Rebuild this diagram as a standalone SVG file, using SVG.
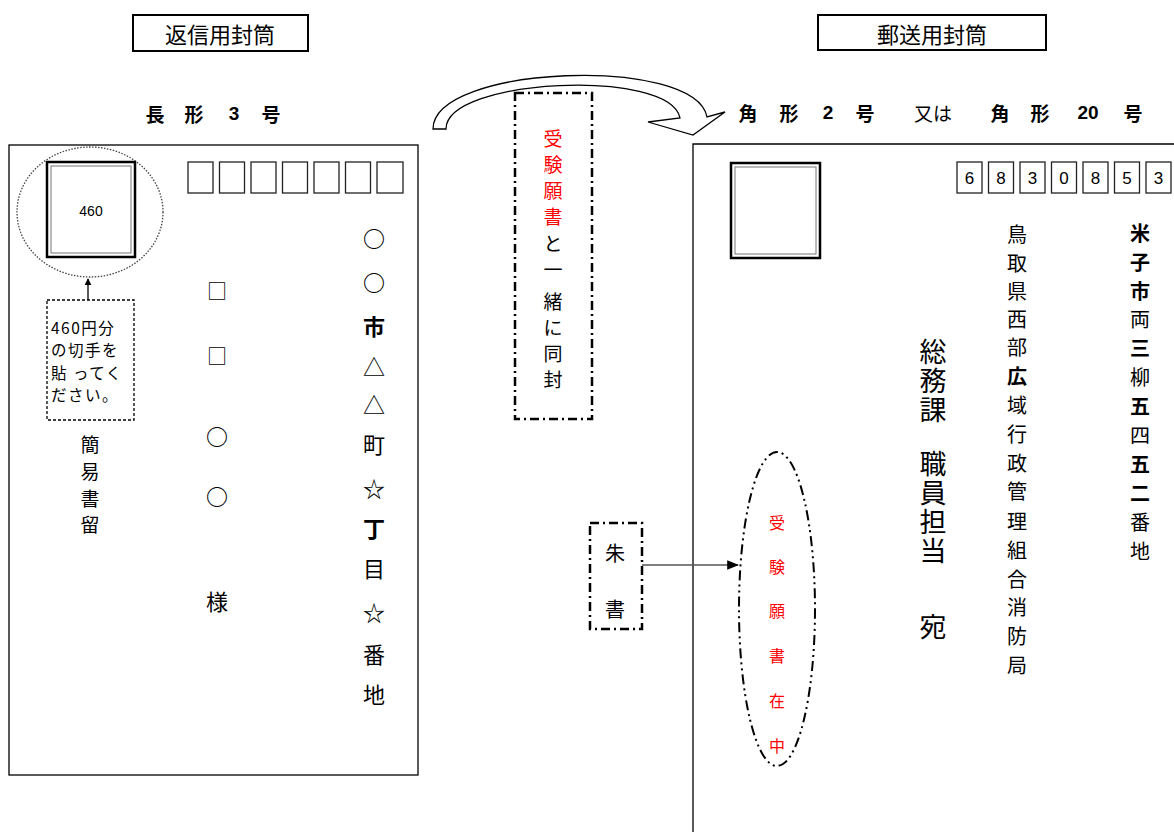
<svg xmlns="http://www.w3.org/2000/svg" width="1174" height="832" viewBox="0 0 1174 832">
<style>
text{font-family:"Noto Sans CJK JP","Noto Sans",sans-serif;fill:#000;}
.c{text-anchor:middle;dominant-baseline:central;}
.v{writing-mode:vertical-rl;letter-spacing:2px;}
.red{fill:#ff0000;}
.b{font-weight:bold;}
.frame{fill:#fff;stroke:#000;stroke-width:1.3;}
.title{fill:#fff;stroke:#000;stroke-width:2;}
.dd{fill:none;stroke:#000;stroke-width:2.5;stroke-dasharray:9 4 2 4;}
.pbox{fill:#fff;stroke:#222;stroke-width:1.3;}
.stamp{fill:#fff;stroke:#000;stroke-width:2.5;}
.stampin{fill:none;stroke:#777;stroke-width:1;}
.num{font-family:"Liberation Sans",sans-serif;}
</style>
<defs>
<marker id="ah" viewBox="0 0 10 10" refX="9" refY="5" markerWidth="7" markerHeight="7" orient="auto" markerUnits="userSpaceOnUse">
<path d="M0,0 L10,5 L0,10 z" fill="#000"/>
</marker>
<marker id="ah2" viewBox="0 0 10 10" refX="9" refY="5" markerWidth="12" markerHeight="12" orient="auto" markerUnits="userSpaceOnUse">
<path d="M0,1 L10,5 L0,9 z" fill="#000"/>
</marker>
</defs>
<rect width="1174" height="832" fill="#fff"/>

<g id="title-left">
<rect class="title" x="133" y="15" width="175" height="36"/>
<text class="c" x="220" y="33" font-size="22">返信用封筒</text>
</g>
<g id="title-right">
<rect class="title" x="818" y="15" width="228" height="35"/>
<text class="c" x="932" y="33" font-size="22">郵送用封筒</text>
</g>

<g id="size-left">
<text class="c b" y="113" font-size="19"><tspan x="155">長</tspan><tspan x="194">形</tspan><tspan x="234" class="num">3</tspan><tspan x="271">号</tspan></text>
</g>
<g id="size-right">
<text class="c b" y="112" font-size="19"><tspan x="748">角</tspan><tspan x="789">形</tspan><tspan x="828" class="num">2</tspan><tspan x="865">号</tspan></text>
<text class="c" x="933" y="112" font-size="19">又は</text>
<text class="c b" y="112" font-size="19"><tspan x="1000">角</tspan><tspan x="1040">形</tspan><tspan x="1088" class="num">20</tspan><tspan x="1133">号</tspan></text>
</g>

<g id="envelope-left">
<rect class="frame" x="9" y="145" width="409" height="630"/>
<g id="stamp-left">
<ellipse cx="90" cy="212" rx="73" ry="65" fill="none" stroke="#444" stroke-width="1.3" stroke-dasharray="1.5 1.5"/>
<rect class="stamp" x="47" y="162" width="88" height="95"/>
<rect class="stampin" x="51" y="166" width="80" height="87"/>
<text class="c num" x="91" y="211" font-size="14">460</text>
</g>
<g id="postal-left">
<rect class="pbox" x="188" y="162" width="25" height="31"/>
<rect class="pbox" x="219.5" y="162" width="25" height="31"/>
<rect class="pbox" x="251" y="162" width="25" height="31"/>
<rect class="pbox" x="282.5" y="162" width="25" height="31"/>
<rect class="pbox" x="314" y="162" width="25" height="31"/>
<rect class="pbox" x="345.5" y="162" width="25" height="31"/>
<rect class="pbox" x="377" y="162" width="26" height="31"/>
</g>
<g id="stamp-note">
<rect x="47" y="300" width="87" height="120" fill="#fff" stroke="#000" stroke-width="1.3" stroke-dasharray="3 2"/>
<text font-size="15.5" letter-spacing="1.5"><tspan x="51" y="334">460円分</tspan><tspan x="51" y="356">の切手を</tspan><tspan x="51" y="379">貼 ってく</tspan><tspan x="51" y="401">ださい。</tspan></text>
</g>
<g id="kanni">
<text class="c" x="90" font-size="19"><tspan x="90" y="443">簡</tspan><tspan x="90" y="470">易</tspan><tspan x="90" y="497">書</tspan><tspan x="90" y="523">留</tspan></text>
</g>
<g id="address-left">
<text class="c" font-size="22"><tspan x="374" y="237" class="b">○</tspan><tspan x="374" y="281" class="b">○</tspan><tspan x="374" y="325" class="b">市</tspan><tspan x="374" y="365">△</tspan><tspan x="374" y="403">△</tspan><tspan x="374" y="443">町</tspan><tspan x="374" y="487">☆</tspan><tspan x="374" y="527" class="b">丁</tspan><tspan x="374" y="567">目</tspan><tspan x="374" y="611">☆</tspan><tspan x="374" y="653">番</tspan><tspan x="374" y="693">地</tspan></text>
</g>
<g id="name-left">
<text class="c" font-size="22"><tspan x="217" y="290" font-size="20">□</tspan><tspan x="217" y="355" font-size="20">□</tspan><tspan x="217" y="435" class="b">○</tspan><tspan x="217" y="495" class="b">○</tspan><tspan x="217" y="600">様</tspan></text>
</g>
</g>

<g id="enclose-note">
<rect class="dd" x="515" y="93" width="77" height="326"/>
<text class="c" font-size="19"><tspan x="553" y="137" class="red">受</tspan><tspan x="553" y="163" class="red">験</tspan><tspan x="553" y="189" class="red">願</tspan><tspan x="553" y="215" class="red">書</tspan><tspan x="553" y="242">と</tspan><tspan x="553" y="268">一</tspan><tspan x="553" y="300">緒</tspan><tspan x="553" y="326">に</tspan><tspan x="553" y="352">同</tspan><tspan x="553" y="378">封</tspan></text>
</g>

<g id="envelope-right">
<path d="M693,832 V144 H1174" fill="none" stroke="#000" stroke-width="1.3"/>
<g id="stamp-right">
<rect class="stamp" x="731" y="163" width="89" height="95"/>
<rect class="stampin" x="735" y="167" width="81" height="87"/>
</g>
<g id="postal-right">
<rect class="pbox" x="957" y="162" width="25" height="31"/>
<rect class="pbox" x="988.5" y="162" width="25" height="31"/>
<rect class="pbox" x="1020" y="162" width="25" height="31"/>
<rect class="pbox" x="1051.5" y="162" width="25" height="31"/>
<rect class="pbox" x="1083" y="162" width="25" height="31"/>
<rect class="pbox" x="1114.5" y="162" width="25" height="31"/>
<rect class="pbox" x="1146" y="162" width="25" height="31"/>
<text class="c num" y="178" font-size="17"><tspan x="969.5">6</tspan><tspan x="1001">8</tspan><tspan x="1032.5">3</tspan><tspan x="1064">0</tspan><tspan x="1095.5">8</tspan><tspan x="1127">5</tspan><tspan x="1158.5">3</tspan></text>
</g>
<g id="address-right-1">
<text class="c" font-size="20"><tspan x="1140" y="232" class="b">米</tspan><tspan x="1140" y="261" class="b">子</tspan><tspan x="1140" y="290" class="b">市</tspan><tspan x="1140" y="318">両</tspan><tspan x="1140" y="347" class="b">三</tspan><tspan x="1140" y="376">柳</tspan><tspan x="1140" y="405" class="b">五</tspan><tspan x="1140" y="434">四</tspan><tspan x="1140" y="463" class="b">五</tspan><tspan x="1140" y="492" class="b">二</tspan><tspan x="1140" y="521">番</tspan><tspan x="1140" y="550">地</tspan></text>
</g>
<g id="address-right-2">
<text class="c" font-size="20"><tspan x="1017" y="233">鳥</tspan><tspan x="1017" y="262">取</tspan><tspan x="1017" y="290">県</tspan><tspan x="1017" y="318">西</tspan><tspan x="1017" y="346">部</tspan><tspan x="1017" y="375" class="b">広</tspan><tspan x="1017" y="404">域</tspan><tspan x="1017" y="433">行</tspan><tspan x="1017" y="462">政</tspan><tspan x="1017" y="490">管</tspan><tspan x="1017" y="520">理</tspan><tspan x="1017" y="549">組</tspan><tspan x="1017" y="578">合</tspan><tspan x="1017" y="606">消</tspan><tspan x="1017" y="635">防</tspan><tspan x="1017" y="664">局</tspan></text>
</g>
<g id="recipient">
<text class="v" x="933" y="338" font-size="27">総務課</text>
<text class="v" x="933" y="450" font-size="27">職員担当</text>
<text class="v" x="933" y="613" font-size="27">宛</text>
</g>
<g id="red-oval">
<ellipse cx="777" cy="609" rx="38" ry="157" fill="none" stroke="#000" stroke-width="2" stroke-dasharray="10 4 2 4 2 4"/>
<text class="c red" font-size="16"><tspan x="777" y="522">受</tspan><tspan x="777" y="566">験</tspan><tspan x="777" y="610">願</tspan><tspan x="777" y="655">書</tspan><tspan x="777" y="700">在</tspan><tspan x="777" y="745">中</tspan></text>
</g>
</g>

<g id="shusho">
<rect class="dd" x="590" y="523" width="52" height="106"/>
<text class="c" font-size="20"><tspan x="615" y="552">朱</tspan><tspan x="615" y="608">書</tspan></text>
</g>

<g id="connectors">
<path d="M433,129 C433,65 695,55 707,117 L725,112 L693,135 L648,122 L680,118 C670,68 446,78 446,129 Z" fill="#fff" stroke="#000" stroke-width="1.3" stroke-linejoin="miter"/>
<line x1="88" y1="300" x2="88" y2="279" stroke="#000" stroke-width="1.3" marker-end="url(#ah)"/>
<line x1="642" y1="565" x2="738" y2="565" stroke="#555" stroke-width="1.3" marker-end="url(#ah2)"/>
</g>
</svg>
